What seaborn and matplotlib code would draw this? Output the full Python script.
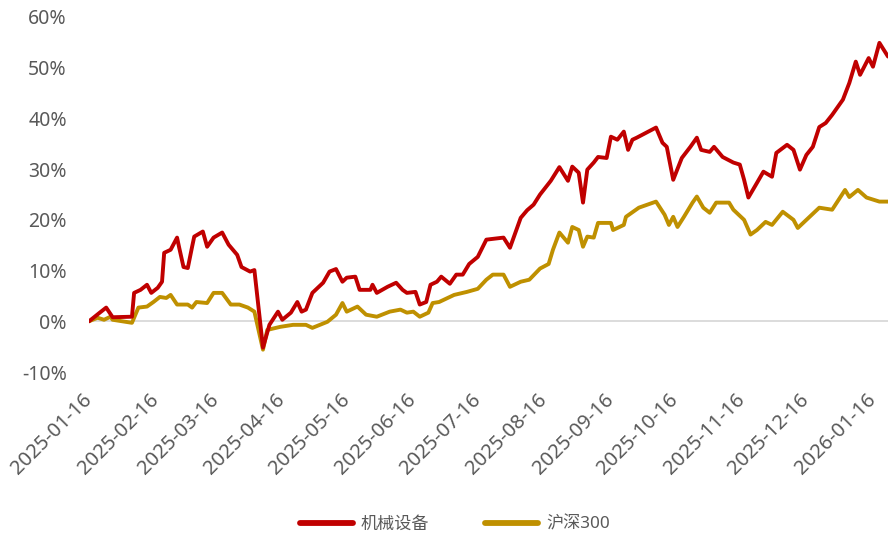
import matplotlib
matplotlib.use("Agg")
import matplotlib.pyplot as plt
import matplotlib.dates as mdates
import matplotlib.ticker as mticker
import seaborn as sns
import pandas as pd

# ---------------- data ----------------
series_names = ["机械设备", "沪深300"]

red_dates = [
    "2025-01-16", "2025-01-21", "2025-01-24", "2025-01-27", "2025-02-05", "2025-02-06",
    "2025-02-09", "2025-02-12", "2025-02-14", "2025-02-17", "2025-02-19", "2025-02-20",
    "2025-02-23", "2025-02-26", "2025-02-27", "2025-03-01", "2025-03-03", "2025-03-05",
    "2025-03-06", "2025-03-10", "2025-03-12", "2025-03-15", "2025-03-19", "2025-03-22",
    "2025-03-26", "2025-03-28", "2025-04-01", "2025-04-03", "2025-04-07", "2025-04-10",
    "2025-04-14", "2025-04-16", "2025-04-20", "2025-04-23", "2025-04-25", "2025-04-27",
    "2025-04-30", "2025-05-05", "2025-05-08", "2025-05-11", "2025-05-14", "2025-05-16",
    "2025-05-20", "2025-05-22", "2025-05-27", "2025-05-28", "2025-05-30", "2025-06-04",
    "2025-06-08", "2025-06-11", "2025-06-13", "2025-06-17", "2025-06-19", "2025-06-22",
    "2025-06-24", "2025-06-27", "2025-06-29", "2025-07-03", "2025-07-06", "2025-07-09",
    "2025-07-12", "2025-07-16", "2025-07-20", "2025-07-28", "2025-07-31", "2025-08-05",
    "2025-08-08", "2025-08-11", "2025-08-14", "2025-08-19", "2025-08-23", "2025-08-27",
    "2025-08-29", "2025-09-01", "2025-09-03", "2025-09-05", "2025-09-08", "2025-09-10",
    "2025-09-14", "2025-09-16", "2025-09-19", "2025-09-22", "2025-09-24", "2025-09-26",
    "2025-09-28", "2025-10-07", "2025-10-10", "2025-10-12", "2025-10-15", "2025-10-19",
    "2025-10-23", "2025-10-26", "2025-10-28", "2025-11-01", "2025-11-03", "2025-11-07",
    "2025-11-12", "2025-11-15", "2025-11-17", "2025-11-19", "2025-11-23", "2025-11-26",
    "2025-11-30", "2025-12-02", "2025-12-07", "2025-12-10", "2025-12-13", "2025-12-16",
    "2025-12-19", "2025-12-22", "2025-12-25", "2025-12-28", "2026-01-02", "2026-01-05",
    "2026-01-08", "2026-01-10", "2026-01-14", "2026-01-16", "2026-01-19", "2026-01-23",
]
red_values = [
    0.0, 1.7, 2.7, 0.8, 0.9, 5.6,
    6.2, 7.2, 5.6, 6.6, 7.8, 13.5,
    14.1, 16.5, 14.5, 10.7, 10.5, 14.7,
    16.7, 17.7, 14.7, 16.5, 17.5, 15.1,
    13.1, 10.7, 9.8, 10.1, -5.2, -0.7,
    1.9, 0.3, 1.7, 3.8, 1.9, 2.3,
    5.6, 7.6, 9.8, 10.3, 7.8, 8.6,
    8.8, 6.2, 6.2, 7.2, 5.6, 6.8,
    7.6, 6.2, 5.6, 5.8, 3.3, 3.8,
    7.2, 7.8, 8.8, 7.4, 9.2, 9.2,
    11.3, 12.7, 16.1, 16.5, 14.5, 20.4,
    21.9, 23.0, 25.0, 27.7, 30.4, 27.7,
    30.5, 29.3, 23.4, 29.9, 31.3, 32.4,
    32.2, 36.4, 35.8, 37.4, 33.8, 35.8,
    36.2, 38.2, 35.2, 34.4, 27.9, 32.2,
    34.4, 36.2, 33.8, 33.4, 34.4, 32.4,
    31.3, 30.9, 27.9, 24.4, 27.3, 29.5,
    28.5, 33.2, 34.8, 33.8, 29.9, 32.8,
    34.4, 38.3, 39.1, 40.7, 43.7, 47.0,
    51.2, 48.6, 51.9, 50.2, 54.9, 52.2,
]

gold_dates = [
    "2025-01-16", "2025-01-20", "2025-01-23", "2025-01-26", "2025-01-27", "2025-02-05",
    "2025-02-08", "2025-02-12", "2025-02-15", "2025-02-18", "2025-02-21", "2025-02-23",
    "2025-02-26", "2025-03-03", "2025-03-05", "2025-03-07", "2025-03-12", "2025-03-15",
    "2025-03-19", "2025-03-23", "2025-03-27", "2025-03-31", "2025-04-03", "2025-04-07",
    "2025-04-09", "2025-04-15", "2025-04-21", "2025-04-27", "2025-04-30", "2025-05-07",
    "2025-05-11", "2025-05-14", "2025-05-16", "2025-05-21", "2025-05-25", "2025-05-30",
    "2025-06-05", "2025-06-10", "2025-06-13", "2025-06-16", "2025-06-19", "2025-06-23",
    "2025-06-25", "2025-06-28", "2025-07-05", "2025-07-11", "2025-07-16", "2025-07-20",
    "2025-07-23", "2025-07-28", "2025-07-31", "2025-08-05", "2025-08-09", "2025-08-14",
    "2025-08-18", "2025-08-20", "2025-08-23", "2025-08-27", "2025-08-29", "2025-09-01",
    "2025-09-03", "2025-09-05", "2025-09-08", "2025-09-10", "2025-09-16", "2025-09-17",
    "2025-09-22", "2025-09-23", "2025-09-29", "2025-10-07", "2025-10-11", "2025-10-13",
    "2025-10-15", "2025-10-17", "2025-10-20", "2025-10-24", "2025-10-26", "2025-10-29",
    "2025-11-01", "2025-11-04", "2025-11-10", "2025-11-12", "2025-11-17", "2025-11-20",
    "2025-11-23", "2025-11-27", "2025-11-30", "2025-12-05", "2025-12-10", "2025-12-12",
    "2025-12-16", "2025-12-22", "2025-12-28", "2026-01-03", "2026-01-05", "2026-01-09",
    "2026-01-13", "2026-01-19", "2026-01-23",
]
gold_values = [
    0.0, 0.7, 0.3, 0.9, 0.3, -0.3,
    2.7, 2.9, 3.8, 4.8, 4.6, 5.2,
    3.3, 3.3, 2.7, 3.8, 3.6, 5.6,
    5.6, 3.3, 3.3, 2.7, 1.9, -5.6,
    -1.7, -1.1, -0.7, -0.7, -1.3, -0.1,
    1.3, 3.6, 1.9, 2.9, 1.3, 0.9,
    1.9, 2.3, 1.7, 1.9, 0.9, 1.7,
    3.6, 3.8, 5.2, 5.8, 6.4, 8.2,
    9.2, 9.2, 6.8, 7.8, 8.2, 10.4,
    11.3, 14.1, 17.5, 15.5, 18.6, 18.0,
    14.7, 16.7, 16.5, 19.4, 19.4, 18.0,
    19.0, 20.6, 22.4, 23.6, 21.0, 19.0,
    20.6, 18.6, 20.6, 23.4, 24.6, 22.4,
    21.4, 23.4, 23.4, 22.0, 20.0, 17.1,
    18.0, 19.6, 19.0, 21.6, 20.0, 18.4,
    20.0, 22.4, 22.0, 25.9, 24.5, 25.9,
    24.4, 23.6, 23.6,
]

y_ticks = [-10, 0, 10, 20, 30, 40, 50, 60]
x_tick_dates = [
    "2025-01-16", "2025-02-16", "2025-03-16", "2025-04-16", "2025-05-16",
    "2025-06-16", "2025-07-16", "2025-08-16", "2025-09-16", "2025-10-16",
    "2025-11-16", "2025-12-16", "2026-01-16",
]

# ---------------- build tables ----------------
df_red = pd.DataFrame({"date": pd.to_datetime(red_dates), "value": red_values})
df_gold = pd.DataFrame({"date": pd.to_datetime(gold_dates), "value": gold_values})

# ---------------- style ----------------
sns.set_theme(style="white")
plt.rcParams["font.family"] = ["Noto Sans", "Noto Sans CJK SC", "DejaVu Sans"]

RED = "#C00000"
GOLD = "#BF9000"
TEXT = "#595959"

fig = plt.figure(figsize=(8.88, 5.40), dpi=100)
ax = fig.add_axes([89 / 888, 1 - 372 / 540, 1 - 89 / 888, (372 - 17) / 540])

ax.axhline(0, color="#D9D9D9", lw=1.3, zorder=1)

sns.lineplot(data=df_red, x="date", y="value", ax=ax, color=RED, lw=2.8,
             label=series_names[0], estimator=None, zorder=3)
sns.lineplot(data=df_gold, x="date", y="value", ax=ax, color=GOLD, lw=2.8,
             label=series_names[1], estimator=None, zorder=2)

ax.set_ylim(-10, 60)
ax.set_xlim(df_red["date"].min(), df_red["date"].max())
ax.set_yticks(y_ticks)
ax.yaxis.set_major_formatter(mticker.FuncFormatter(lambda v, p: f"{v:.0f}%"))
ax.set_xticks(pd.to_datetime(x_tick_dates))
ax.xaxis.set_major_formatter(mdates.DateFormatter("%Y-%m-%d"))

ax.tick_params(axis="y", length=0, pad=16, labelsize=14, labelcolor=TEXT)
ax.tick_params(axis="x", length=0, pad=18, labelsize=14.5, labelcolor=TEXT)
for lbl in ax.get_xticklabels():
    lbl.set_rotation(45)
    lbl.set_ha("right")
    lbl.set_va("center")
    lbl.set_rotation_mode("anchor")

ax.set_xlabel("")
ax.set_ylabel("")
for s in ax.spines.values():
    s.set_visible(False)
ax.grid(False)

ax.legend_.remove()
handles, labels = ax.get_legend_handles_labels()
leg = fig.legend(handles, labels, loc="center", bbox_to_anchor=(0.512, 0.029),
                 ncol=2, frameon=False, fontsize=12.3, handlelength=3.1,
                 handletextpad=0.45, columnspacing=3.3, labelcolor=TEXT)
for h in leg.get_lines():
    h.set_linewidth(4.2)

fig.savefig("out.png", dpi=100)
